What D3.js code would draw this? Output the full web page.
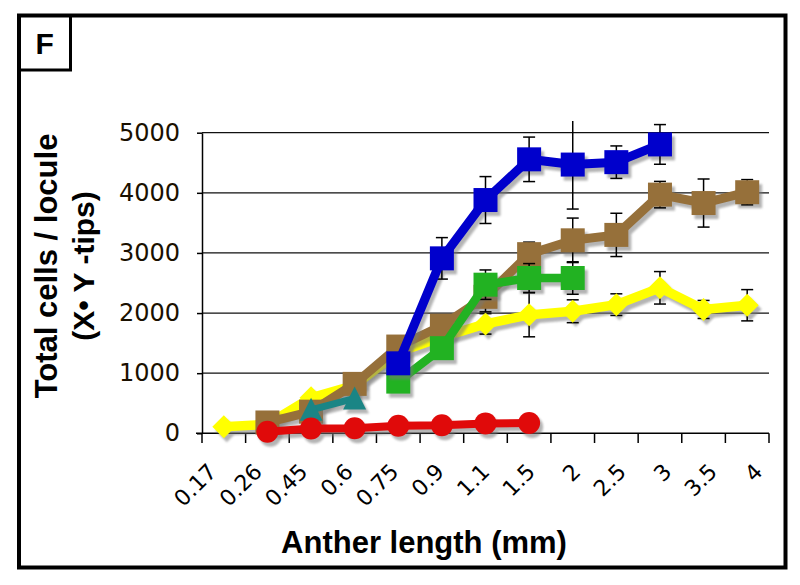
<!DOCTYPE html>
<html><head><meta charset="utf-8">
<script src="https://cdn.jsdelivr.net/npm/d3@7"></script>
<style>body{margin:0;background:#fff}</style>
</head><body>
<svg id="c" width="800" height="585"></svg>
<script>
// ---- data ----
const categories = ["0.17","0.26","0.45","0.6","0.75","0.9","1.1","1.5","2","2.5","3","3.5","4"];
const yTickValues = [0,1000,2000,3000,4000,5000];

const yellowVals = [110,150,590,800,1350,1600,1820,1970,2030,2140,2420,2060,2130];
const yellowErr  = [null,null,60,null,null,null,170,365,190,180,270,150,260];
const brownVals  = [null,180,360,822,1443,1790,2270,2980,3210,3300,3970,3830,4010];
const brownErr   = [null,null,null,null,null,null,250,200,370,360,220,400,210];
const tealVals   = [null,null,390,580,null,null,null,null,null,null,null,null,null];
const greenVals  = [null,null,null,null,860,1416,2472,2583,2583,null,null,null,null];
const greenErr   = [null,null,null,null,null,null,245,240,270,null,null,null,null];
const blueVals   = [null,null,null,null,1164,2910,3880,4557,4470,4510,4805,null,null];
const blueErr    = [null,null,null,null,null,345,390,370,740,270,330,null,null];
const redVals    = [null,25,80,85,125,135,165,170,null,null,null,null,null];

const xTitle = "Anther length (mm)";
const yTitle1 = "Total cells / locule";
const yTitle2 = "(X\u2022 Y -tips)";
const panelLabel = "F";

// ---- setup ----
const svg = d3.select("#c");
const defs = svg.append("defs");
defs.append("filter").attr("id","blur").attr("x","-20%").attr("y","-20%").attr("width","140%").attr("height","140%")
  .append("feGaussianBlur").attr("stdDeviation",1.2);
defs.append("clipPath").attr("id","clip").append("rect")
  .attr("x",190).attr("y",121).attr("width",600).attr("height",340);

const x = d3.scaleBand().domain(categories).range([202,769]).padding(0);
const y = d3.scaleLinear().domain([0,5000]).range([433.3,132.7]);
const cx = c => x(c) + x.bandwidth()/2;
const xLabel = d3.scalePoint().domain(categories).range([218,764]);

const sansBold = "'Liberation Sans', Arial, sans-serif";
const tickFont = "'DejaVu Sans', Verdana, sans-serif";

// frame
svg.append("rect").attr("x",19).attr("y",15.5).attr("width",766.5).attr("height",552)
  .attr("fill","none").attr("stroke","#000").attr("stroke-width",4);
svg.append("path").attr("d","M19,70 H70.5 V15.5").attr("fill","none").attr("stroke","#000").attr("stroke-width",3);
svg.append("text").attr("x",35.5).attr("y",53.5).text(panelLabel)
  .attr("font-family",sansBold).attr("font-weight","bold").attr("font-size",30);

// gridlines
svg.append("g").selectAll("line").data(yTickValues.filter(v=>v>0)).join("line")
  .attr("x1",202).attr("x2",769).attr("y1",d=>y(d)).attr("y2",d=>y(d))
  .attr("stroke","#111").attr("stroke-width",1.3);

// y axis
const yAxis = svg.append("g").attr("transform","translate(202,0)")
  .call(d3.axisLeft(y).tickValues(yTickValues).tickFormat(d3.format("d")).tickSize(5).tickPadding(17).tickSizeOuter(0));
yAxis.select(".domain").attr("stroke","#000").attr("stroke-width",1.5);
yAxis.selectAll(".tick line").attr("stroke","#000").attr("stroke-width",1.5);
yAxis.selectAll("text").attr("font-family",tickFont).attr("font-size",24).attr("fill","#1a1000");

// x axis line & ticks (band boundaries)
const bounds = categories.map(c=>x(c)).concat([x.range()[1]]);
svg.append("g").selectAll("line").data(bounds).join("line")
  .attr("x1",d=>d).attr("x2",d=>d).attr("y1",433.3).attr("y2",443)
  .attr("stroke","#000").attr("stroke-width",1.5);
svg.append("line").attr("x1",196).attr("x2",769).attr("y1",y(0)).attr("y2",y(0))
  .attr("stroke","#000").attr("stroke-width",1.5);

// x labels
svg.append("g").selectAll("text").data(categories).join("text")
  .attr("transform",d=>`translate(${xLabel(d)},473) rotate(-45)`)
  .attr("text-anchor","end").attr("font-family",tickFont).attr("font-size",22).attr("fill","#000")
  .text(d=>d);

// titles
svg.append("text").attr("x",424).attr("y",552.5).attr("text-anchor","middle")
  .attr("font-family",sansBold).attr("font-weight","bold").attr("font-size",31).text(xTitle);
svg.append("text").attr("transform","translate(57,266) rotate(-90)").attr("text-anchor","middle")
  .attr("font-family",sansBold).attr("font-weight","bold").attr("font-size",31).text(yTitle1);
svg.append("text").attr("transform","translate(93.5,266) rotate(-90)").attr("text-anchor","middle")
  .attr("font-family",sansBold).attr("font-weight","bold").attr("font-size",30).text(yTitle2);

// ---- series ----
const sq = 12, dm = 11.5, cr = 11;
const shapes = {
  square: `M${-sq},${-sq}H${sq}V${sq}H${-sq}Z`,
  diamond: `M0,${-dm}L${dm},0L0,${dm}L${-dm},0Z`,
  circle: `M${-cr},0A${cr},${cr} 0 1,0 ${cr},0A${cr},${cr} 0 1,0 ${-cr},0Z`,
  triangle: `M0,-12L11.5,11L-11.5,11Z`
};
const series = [
  {vals: yellowVals, err: yellowErr, color:"#ffff00", shape:"diamond", w:9.5},
  {vals: brownVals,  err: brownErr,  color:"#96703a", shape:"square",  w:9},
  {vals: tealVals,   err: null,      color:"#1a8585", shape:"triangle",w:7},
  {vals: greenVals,  err: greenErr,  color:"#22b222", shape:"square",  w:8.5},
  {vals: blueVals,   err: blueErr,   color:"#0000cc", shape:"square",  w:9},
  {vals: redVals,    err: null,      color:"#e00a0a", shape:"circle",  w:8}
];

const line = d3.line().defined(d=>d.v!=null).x(d=>cx(d.c)).y(d=>y(d.v));
const plot = svg.append("g");

series.forEach(s=>{
  const pts = categories.map((c,i)=>({c, v:s.vals[i], e: s.err ? s.err[i] : null}));
  const valid = pts.filter(d=>d.v!=null);
  // shadow
  const sh = plot.append("g").attr("transform","translate(3,4)").attr("filter","url(#blur)").attr("opacity",0.55);
  sh.append("path").attr("d",line(pts)).attr("fill","none").attr("stroke","#777").attr("stroke-width",s.w).attr("stroke-linejoin","round");
  sh.selectAll("path.m").data(valid).join("path").attr("class","m")
    .attr("d",shapes[s.shape]).attr("transform",d=>`translate(${cx(d.c)},${y(d.v)})`).attr("fill","#777");
  // error bars
  const eb = plot.append("g").attr("clip-path","url(#clip)").attr("stroke","#000").attr("stroke-width",1.5);
  valid.filter(d=>d.e!=null).forEach(d=>{
    const xc = cx(d.c), y1 = y(d.v + d.e), y2 = y(d.v - d.e);
    eb.append("line").attr("x1",xc).attr("x2",xc).attr("y1",y1).attr("y2",y2);
    eb.append("line").attr("x1",xc-6).attr("x2",xc+6).attr("y1",y1).attr("y2",y1);
    eb.append("line").attr("x1",xc-6).attr("x2",xc+6).attr("y1",y2).attr("y2",y2);
  });
  // line
  plot.append("path").attr("d",line(pts)).attr("fill","none").attr("stroke",s.color)
    .attr("stroke-width",s.w).attr("stroke-linejoin","round");
  // markers
  plot.append("g").selectAll("path").data(valid).join("path")
    .attr("d",shapes[s.shape]).attr("transform",d=>`translate(${cx(d.c)},${y(d.v)})`).attr("fill",s.color);
});
</script>
</body></html>
